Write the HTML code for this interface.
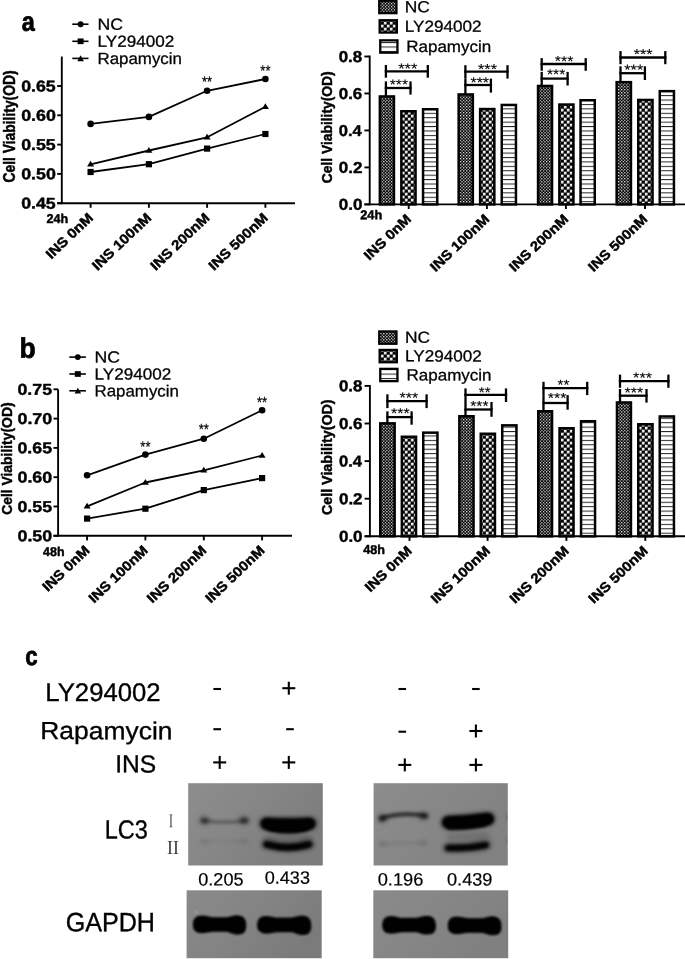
<!DOCTYPE html>
<html><head><meta charset="utf-8"><title>Figure</title>
<style>
html,body{margin:0;padding:0;background:#fff;}
body{width:685px;height:959px;overflow:hidden;font-family:"Liberation Sans",sans-serif;}
svg{display:block;}
</style></head><body>
<svg width="685" height="959" viewBox="0 0 685 959">
<defs>
<pattern id="pNC" width="3.07" height="3.07" patternUnits="userSpaceOnUse" x="1.02" y="0"><rect width="3.07" height="3.07" fill="#000"/><rect x="0" y="0" width="1.2" height="1.2" fill="#f2f2f2"/><rect x="1.535" y="1.535" width="1.2" height="1.2" fill="#f2f2f2"/></pattern>
<pattern id="pLY" width="6" height="6" patternUnits="userSpaceOnUse" x="2.85" y="0.7"><rect width="6" height="6" fill="#000"/><rect x="0" y="0" width="2.7" height="2.7" rx="0.6" fill="#fff"/><rect x="3" y="3" width="2.7" height="2.7" rx="0.6" fill="#fff"/></pattern>
<pattern id="pRA" width="4" height="4.42" patternUnits="userSpaceOnUse" y="2.3"><rect width="4" height="4.42" fill="#fff"/><rect x="0" y="0" width="4" height="1.0" fill="#262626"/></pattern>
<filter id="b1" filterUnits="userSpaceOnUse" x="0" y="770" width="685" height="200"><feGaussianBlur stdDeviation="1.6"/></filter>
<filter id="b2" filterUnits="userSpaceOnUse" x="0" y="770" width="685" height="200"><feGaussianBlur stdDeviation="2.4"/></filter>
<filter id="b4" filterUnits="userSpaceOnUse" x="0" y="770" width="685" height="200"><feGaussianBlur stdDeviation="1.25"/></filter>
<filter id="b3" filterUnits="userSpaceOnUse" x="0" y="770" width="685" height="200"><feGaussianBlur stdDeviation="1.0"/></filter>
<linearGradient id="gL" x1="0" y1="0" x2="1" y2="0.5"><stop offset="0" stop-color="#8d8d8d"/><stop offset="0.5" stop-color="#868686"/><stop offset="1" stop-color="#7c7c7c"/></linearGradient>
<linearGradient id="gR" x1="0" y1="0" x2="1" y2="0.5"><stop offset="0" stop-color="#8c8c8c"/><stop offset="0.5" stop-color="#878787"/><stop offset="1" stop-color="#818181"/></linearGradient>
<linearGradient id="gG" x1="0" y1="0" x2="1" y2="0.5"><stop offset="0" stop-color="#8a8a8a"/><stop offset="0.5" stop-color="#848484"/><stop offset="1" stop-color="#7b7b7b"/></linearGradient>
<linearGradient id="gG2" x1="0" y1="0" x2="1" y2="0.5"><stop offset="0" stop-color="#8a8a8a"/><stop offset="0.5" stop-color="#868686"/><stop offset="1" stop-color="#808080"/></linearGradient>
</defs>
<rect width="685" height="959" fill="#fff"/>
<g opacity="0.999">

<line x1="61.80" y1="56.50" x2="61.80" y2="204.15" stroke="#000" stroke-width="1.9" stroke-linecap="butt"/>
<line x1="57.20" y1="203.20" x2="295.00" y2="203.20" stroke="#000" stroke-width="1.9" stroke-linecap="butt"/>
<line x1="57.20" y1="203.20" x2="61.80" y2="203.20" stroke="#000" stroke-width="1.9" stroke-linecap="butt"/>
<text transform="matrix(0.17736,0.0003,0,0.15689,21.19,208.59)" font-family="Liberation Sans, sans-serif" font-size="100" fill="#000" font-weight="bold" stroke="#000" stroke-width="2.69" stroke-linejoin="round">0.45</text>
<line x1="57.20" y1="173.90" x2="61.80" y2="173.90" stroke="#000" stroke-width="1.9" stroke-linecap="butt"/>
<text transform="matrix(0.17855,0.0003,0,0.15689,21.19,179.29)" font-family="Liberation Sans, sans-serif" font-size="100" fill="#000" font-weight="bold" stroke="#000" stroke-width="2.68" stroke-linejoin="round">0.50</text>
<line x1="57.20" y1="144.60" x2="61.80" y2="144.60" stroke="#000" stroke-width="1.9" stroke-linecap="butt"/>
<text transform="matrix(0.17736,0.0003,0,0.15689,21.19,149.99)" font-family="Liberation Sans, sans-serif" font-size="100" fill="#000" font-weight="bold" stroke="#000" stroke-width="2.69" stroke-linejoin="round">0.55</text>
<line x1="57.20" y1="115.30" x2="61.80" y2="115.30" stroke="#000" stroke-width="1.9" stroke-linecap="butt"/>
<text transform="matrix(0.17855,0.0003,0,0.15689,21.19,120.69)" font-family="Liberation Sans, sans-serif" font-size="100" fill="#000" font-weight="bold" stroke="#000" stroke-width="2.68" stroke-linejoin="round">0.60</text>
<line x1="57.20" y1="86.00" x2="61.80" y2="86.00" stroke="#000" stroke-width="1.9" stroke-linecap="butt"/>
<text transform="matrix(0.17736,0.0003,0,0.15689,21.19,91.39)" font-family="Liberation Sans, sans-serif" font-size="100" fill="#000" font-weight="bold" stroke="#000" stroke-width="2.69" stroke-linejoin="round">0.65</text>
<line x1="90.60" y1="203.20" x2="90.60" y2="207.80" stroke="#000" stroke-width="1.9" stroke-linecap="butt"/>
<text transform="translate(94.00,218.80) rotate(-43.7) scale(1.095,1)" font-family="Liberation Sans, sans-serif" font-size="13.7" fill="#000" text-anchor="end" font-weight="bold" stroke="#000" stroke-width="0.45" stroke-linejoin="round">INS 0nM</text>
<line x1="148.90" y1="203.20" x2="148.90" y2="207.80" stroke="#000" stroke-width="1.9" stroke-linecap="butt"/>
<text transform="translate(152.30,218.80) rotate(-43.7) scale(1.095,1)" font-family="Liberation Sans, sans-serif" font-size="13.7" fill="#000" text-anchor="end" font-weight="bold" stroke="#000" stroke-width="0.45" stroke-linejoin="round">INS 100nM</text>
<line x1="207.10" y1="203.20" x2="207.10" y2="207.80" stroke="#000" stroke-width="1.9" stroke-linecap="butt"/>
<text transform="translate(210.50,218.80) rotate(-43.7) scale(1.095,1)" font-family="Liberation Sans, sans-serif" font-size="13.7" fill="#000" text-anchor="end" font-weight="bold" stroke="#000" stroke-width="0.45" stroke-linejoin="round">INS 200nM</text>
<line x1="265.40" y1="203.20" x2="265.40" y2="207.80" stroke="#000" stroke-width="1.9" stroke-linecap="butt"/>
<text transform="translate(268.80,218.80) rotate(-43.7) scale(1.095,1)" font-family="Liberation Sans, sans-serif" font-size="13.7" fill="#000" text-anchor="end" font-weight="bold" stroke="#000" stroke-width="0.45" stroke-linejoin="round">INS 500nM</text>
<text transform="matrix(0.12596,0.0003,0,0.12828,46.46,223.00)" font-family="Liberation Sans, sans-serif" font-size="100" fill="#000" font-weight="bold" stroke="#000" stroke-width="3.54" stroke-linejoin="round">24h</text>
<text transform="translate(14.95,182.45) rotate(-90) scale(0.13866,0.15657)" font-family="Liberation Sans, sans-serif" font-size="100" fill="#000" font-weight="bold" stroke="#000" stroke-width="3.05" stroke-linejoin="round">Cell Viability(OD)</text>
<polyline points="90.6,123.9 148.9,116.9 207.1,90.8 265.4,79.0" fill="none" stroke="#000" stroke-width="1.8" stroke-linejoin="round"/>
<circle cx="90.60" cy="123.90" r="3.30" fill="#000"/>
<circle cx="148.90" cy="116.90" r="3.30" fill="#000"/>
<circle cx="207.10" cy="90.80" r="3.30" fill="#000"/>
<circle cx="265.40" cy="79.00" r="3.30" fill="#000"/>
<polyline points="90.6,164.3 148.9,150.5 207.1,137.3 265.4,106.7" fill="none" stroke="#000" stroke-width="1.8" stroke-linejoin="round"/>
<path d="M87.10,166.60 L94.10,166.60 L90.60,160.80 Z" fill="#000"/>
<path d="M145.40,152.80 L152.40,152.80 L148.90,147.00 Z" fill="#000"/>
<path d="M203.60,139.60 L210.60,139.60 L207.10,133.80 Z" fill="#000"/>
<path d="M261.90,109.00 L268.90,109.00 L265.40,103.20 Z" fill="#000"/>
<polyline points="90.6,172.0 148.9,164.2 207.1,148.6 265.4,134.0" fill="none" stroke="#000" stroke-width="1.8" stroke-linejoin="round"/>
<rect x="87.50" y="168.90" width="6.20" height="6.20" fill="#000"/>
<rect x="145.80" y="161.10" width="6.20" height="6.20" fill="#000"/>
<rect x="204.00" y="145.50" width="6.20" height="6.20" fill="#000"/>
<rect x="262.30" y="130.90" width="6.20" height="6.20" fill="#000"/>
<text transform="matrix(0.13020,0.0003,0,0.15429,201.92,87.11)" font-family="Liberation Sans, sans-serif" font-size="100" fill="#000" stroke="#000" stroke-width="1.41" stroke-linejoin="round">**</text>
<text transform="matrix(0.13020,0.0003,0,0.15429,260.32,76.01)" font-family="Liberation Sans, sans-serif" font-size="100" fill="#000" stroke="#000" stroke-width="1.41" stroke-linejoin="round">**</text>
<line x1="72.30" y1="24.20" x2="88.50" y2="24.20" stroke="#000" stroke-width="1.6" stroke-linecap="butt"/>
<circle cx="80.60" cy="24.20" r="2.95" fill="#000"/>
<text transform="matrix(0.17694,0.0003,0,0.16113,97.44,29.64)" font-family="Liberation Sans, sans-serif" font-size="100" fill="#000" stroke="#000" stroke-width="1.77" stroke-linejoin="round">NC</text>
<line x1="72.30" y1="41.30" x2="88.50" y2="41.30" stroke="#000" stroke-width="1.6" stroke-linecap="butt"/>
<rect x="77.60" y="38.45" width="6.0" height="5.7" fill="#000"/>
<text transform="matrix(0.17094,0.0003,0,0.16113,97.49,46.74)" font-family="Liberation Sans, sans-serif" font-size="100" fill="#000" stroke="#000" stroke-width="1.81" stroke-linejoin="round">LY294002</text>
<line x1="72.30" y1="58.40" x2="88.50" y2="58.40" stroke="#000" stroke-width="1.6" stroke-linecap="butt"/>
<path d="M77.30,61.20 L83.90,61.20 L80.60,55.30 Z" fill="#000"/>
<text transform="matrix(0.16899,0.0003,0,0.16193,97.51,63.94)" font-family="Liberation Sans, sans-serif" font-size="100" fill="#000" stroke="#000" stroke-width="1.81" stroke-linejoin="round">Rapamycin</text>
<text transform="matrix(0.23474,0.0003,0,0.26849,21.80,30.73)" font-family="Liberation Sans, sans-serif" font-size="100" fill="#000" font-weight="bold" stroke="#000" stroke-width="2.78" stroke-linejoin="round">a</text>
<line x1="369.70" y1="55.55" x2="369.70" y2="205.35" stroke="#000" stroke-width="1.9" stroke-linecap="butt"/>
<line x1="364.40" y1="204.40" x2="685.00" y2="204.40" stroke="#000" stroke-width="1.9" stroke-linecap="butt"/>
<line x1="364.40" y1="204.40" x2="369.70" y2="204.40" stroke="#000" stroke-width="1.9" stroke-linecap="butt"/>
<text transform="matrix(0.17023,0.0003,0,0.15830,338.72,209.84)" font-family="Liberation Sans, sans-serif" font-size="100" fill="#000" font-weight="bold" stroke="#000" stroke-width="2.74" stroke-linejoin="round">0.0</text>
<line x1="364.40" y1="167.43" x2="369.70" y2="167.43" stroke="#000" stroke-width="1.9" stroke-linecap="butt"/>
<text transform="matrix(0.17023,0.0003,0,0.15830,338.72,172.87)" font-family="Liberation Sans, sans-serif" font-size="100" fill="#000" font-weight="bold" stroke="#000" stroke-width="2.74" stroke-linejoin="round">0.2</text>
<line x1="364.40" y1="130.45" x2="369.70" y2="130.45" stroke="#000" stroke-width="1.9" stroke-linecap="butt"/>
<text transform="matrix(0.16580,0.0003,0,0.15830,338.74,135.89)" font-family="Liberation Sans, sans-serif" font-size="100" fill="#000" font-weight="bold" stroke="#000" stroke-width="2.78" stroke-linejoin="round">0.4</text>
<line x1="364.40" y1="93.47" x2="369.70" y2="93.47" stroke="#000" stroke-width="1.9" stroke-linecap="butt"/>
<text transform="matrix(0.16958,0.0003,0,0.15830,338.72,98.92)" font-family="Liberation Sans, sans-serif" font-size="100" fill="#000" font-weight="bold" stroke="#000" stroke-width="2.74" stroke-linejoin="round">0.6</text>
<line x1="364.40" y1="56.50" x2="369.70" y2="56.50" stroke="#000" stroke-width="1.9" stroke-linecap="butt"/>
<text transform="matrix(0.16894,0.0003,0,0.15830,338.72,61.94)" font-family="Liberation Sans, sans-serif" font-size="100" fill="#000" font-weight="bold" stroke="#000" stroke-width="2.75" stroke-linejoin="round">0.8</text>
<rect x="379.85" y="96.45" width="14.10" height="107.95" fill="url(#pNC)" stroke="#000" stroke-width="2.5"/>
<rect x="401.35" y="111.25" width="14.20" height="93.15" fill="url(#pLY)" stroke="#000" stroke-width="2.5"/>
<rect x="423.05" y="109.25" width="14.20" height="95.15" fill="url(#pRA)" stroke="#000" stroke-width="2.5"/>
<line x1="408.70" y1="204.40" x2="408.70" y2="209.00" stroke="#000" stroke-width="1.9" stroke-linecap="butt"/>
<text transform="translate(412.10,220.00) rotate(-43.7) scale(1.095,1)" font-family="Liberation Sans, sans-serif" font-size="13.7" fill="#000" text-anchor="end" font-weight="bold" stroke="#000" stroke-width="0.45" stroke-linejoin="round">INS 0nM</text>
<line x1="384.75" y1="71.35" x2="428.95" y2="71.35" stroke="#000" stroke-width="2.3" stroke-linecap="butt"/>
<line x1="385.90" y1="65.00" x2="385.90" y2="77.70" stroke="#000" stroke-width="2.3" stroke-linecap="butt"/>
<line x1="427.80" y1="65.00" x2="427.80" y2="77.70" stroke="#000" stroke-width="2.3" stroke-linecap="butt"/>
<line x1="384.75" y1="88.00" x2="411.65" y2="88.00" stroke="#000" stroke-width="2.3" stroke-linecap="butt"/>
<line x1="385.90" y1="81.40" x2="385.90" y2="96.20" stroke="#000" stroke-width="2.3" stroke-linecap="butt"/>
<line x1="410.50" y1="81.40" x2="410.50" y2="94.60" stroke="#000" stroke-width="2.3" stroke-linecap="butt"/>
<text transform="matrix(0.16424,0.0003,0,0.14571,398.21,73.42)" font-family="Liberation Sans, sans-serif" font-size="100" fill="#000" stroke="#000" stroke-width="0.77" stroke-linejoin="round">***</text>
<text transform="matrix(0.15806,0.0003,0,0.14286,389.72,89.32)" font-family="Liberation Sans, sans-serif" font-size="100" fill="#000" stroke="#000" stroke-width="0.80" stroke-linejoin="round">***</text>
<rect x="458.65" y="94.45" width="14.20" height="109.95" fill="url(#pNC)" stroke="#000" stroke-width="2.5"/>
<rect x="480.15" y="109.05" width="14.20" height="95.35" fill="url(#pLY)" stroke="#000" stroke-width="2.5"/>
<rect x="501.75" y="104.95" width="14.20" height="99.45" fill="url(#pRA)" stroke="#000" stroke-width="2.5"/>
<line x1="486.90" y1="204.40" x2="486.90" y2="209.00" stroke="#000" stroke-width="1.9" stroke-linecap="butt"/>
<text transform="translate(490.30,220.00) rotate(-43.7) scale(1.095,1)" font-family="Liberation Sans, sans-serif" font-size="13.7" fill="#000" text-anchor="end" font-weight="bold" stroke="#000" stroke-width="0.45" stroke-linejoin="round">INS 100nM</text>
<line x1="464.25" y1="71.60" x2="508.65" y2="71.60" stroke="#000" stroke-width="2.3" stroke-linecap="butt"/>
<line x1="465.40" y1="65.20" x2="465.40" y2="78.60" stroke="#000" stroke-width="2.3" stroke-linecap="butt"/>
<line x1="507.50" y1="65.20" x2="507.50" y2="78.60" stroke="#000" stroke-width="2.3" stroke-linecap="butt"/>
<line x1="464.25" y1="85.00" x2="492.05" y2="85.00" stroke="#000" stroke-width="2.3" stroke-linecap="butt"/>
<line x1="465.40" y1="78.60" x2="465.40" y2="94.20" stroke="#000" stroke-width="2.3" stroke-linecap="butt"/>
<line x1="490.90" y1="78.60" x2="490.90" y2="92.60" stroke="#000" stroke-width="2.3" stroke-linecap="butt"/>
<text transform="matrix(0.16247,0.0003,0,0.14857,478.02,74.21)" font-family="Liberation Sans, sans-serif" font-size="100" fill="#000" stroke="#000" stroke-width="0.77" stroke-linejoin="round">***</text>
<text transform="matrix(0.15982,0.0003,0,0.14857,470.42,87.41)" font-family="Liberation Sans, sans-serif" font-size="100" fill="#000" stroke="#000" stroke-width="0.78" stroke-linejoin="round">***</text>
<rect x="538.05" y="85.95" width="14.00" height="118.45" fill="url(#pNC)" stroke="#000" stroke-width="2.5"/>
<rect x="559.35" y="104.55" width="14.10" height="99.85" fill="url(#pLY)" stroke="#000" stroke-width="2.5"/>
<rect x="580.55" y="100.25" width="14.20" height="104.15" fill="url(#pRA)" stroke="#000" stroke-width="2.5"/>
<line x1="565.90" y1="204.40" x2="565.90" y2="209.00" stroke="#000" stroke-width="1.9" stroke-linecap="butt"/>
<text transform="translate(569.30,220.00) rotate(-43.7) scale(1.095,1)" font-family="Liberation Sans, sans-serif" font-size="13.7" fill="#000" text-anchor="end" font-weight="bold" stroke="#000" stroke-width="0.45" stroke-linejoin="round">INS 200nM</text>
<line x1="540.55" y1="64.00" x2="586.85" y2="64.00" stroke="#000" stroke-width="2.3" stroke-linecap="butt"/>
<line x1="541.70" y1="58.10" x2="541.70" y2="70.80" stroke="#000" stroke-width="2.3" stroke-linecap="butt"/>
<line x1="585.70" y1="58.10" x2="585.70" y2="70.80" stroke="#000" stroke-width="2.3" stroke-linecap="butt"/>
<line x1="540.55" y1="78.60" x2="568.75" y2="78.60" stroke="#000" stroke-width="2.3" stroke-linecap="butt"/>
<line x1="541.70" y1="71.90" x2="541.70" y2="85.70" stroke="#000" stroke-width="2.3" stroke-linecap="butt"/>
<line x1="567.60" y1="71.90" x2="567.60" y2="85.50" stroke="#000" stroke-width="2.3" stroke-linecap="butt"/>
<text transform="matrix(0.15982,0.0003,0,0.14571,554.82,66.12)" font-family="Liberation Sans, sans-serif" font-size="100" fill="#000" stroke="#000" stroke-width="0.79" stroke-linejoin="round">***</text>
<text transform="matrix(0.15629,0.0003,0,0.14571,547.03,79.22)" font-family="Liberation Sans, sans-serif" font-size="100" fill="#000" stroke="#000" stroke-width="0.79" stroke-linejoin="round">***</text>
<rect x="616.65" y="82.15" width="14.30" height="122.25" fill="url(#pNC)" stroke="#000" stroke-width="2.5"/>
<rect x="638.25" y="99.95" width="14.30" height="104.45" fill="url(#pLY)" stroke="#000" stroke-width="2.5"/>
<rect x="659.75" y="91.15" width="14.20" height="113.25" fill="url(#pRA)" stroke="#000" stroke-width="2.5"/>
<line x1="645.00" y1="204.40" x2="645.00" y2="209.00" stroke="#000" stroke-width="1.9" stroke-linecap="butt"/>
<text transform="translate(648.40,220.00) rotate(-43.7) scale(1.095,1)" font-family="Liberation Sans, sans-serif" font-size="13.7" fill="#000" text-anchor="end" font-weight="bold" stroke="#000" stroke-width="0.45" stroke-linejoin="round">INS 500nM</text>
<line x1="619.35" y1="57.50" x2="666.45" y2="57.50" stroke="#000" stroke-width="2.3" stroke-linecap="butt"/>
<line x1="620.50" y1="51.10" x2="620.50" y2="64.20" stroke="#000" stroke-width="2.3" stroke-linecap="butt"/>
<line x1="665.30" y1="51.10" x2="665.30" y2="64.20" stroke="#000" stroke-width="2.3" stroke-linecap="butt"/>
<line x1="619.35" y1="73.20" x2="646.05" y2="73.20" stroke="#000" stroke-width="2.3" stroke-linecap="butt"/>
<line x1="620.50" y1="66.30" x2="620.50" y2="81.90" stroke="#000" stroke-width="2.3" stroke-linecap="butt"/>
<line x1="644.90" y1="66.30" x2="644.90" y2="80.00" stroke="#000" stroke-width="2.3" stroke-linecap="butt"/>
<text transform="matrix(0.16159,0.0003,0,0.14857,633.72,59.21)" font-family="Liberation Sans, sans-serif" font-size="100" fill="#000" stroke="#000" stroke-width="0.77" stroke-linejoin="round">***</text>
<text transform="matrix(0.16336,0.0003,0,0.14857,624.21,74.71)" font-family="Liberation Sans, sans-serif" font-size="100" fill="#000" stroke="#000" stroke-width="0.77" stroke-linejoin="round">***</text>
<text transform="matrix(0.12780,0.0003,0,0.12828,360.25,219.20)" font-family="Liberation Sans, sans-serif" font-size="100" fill="#000" font-weight="bold" stroke="#000" stroke-width="3.51" stroke-linejoin="round">24h</text>
<text transform="translate(331.55,183.15) rotate(-90) scale(0.13829,0.14692)" font-family="Liberation Sans, sans-serif" font-size="100" fill="#000" font-weight="bold" stroke="#000" stroke-width="3.16" stroke-linejoin="round">Cell Viability(OD)</text>
<rect x="379.25" y="0.85" width="17.2" height="12.3" fill="url(#pNC)" stroke="#000" stroke-width="2.3"/>
<text transform="matrix(0.17391,0.0003,0,0.15972,404.77,12.24)" font-family="Liberation Sans, sans-serif" font-size="100" fill="#000" stroke="#000" stroke-width="1.80" stroke-linejoin="round">NC</text>
<rect x="379.65" y="20.25" width="17.2" height="12.3" fill="url(#pLY)" stroke="#000" stroke-width="2.3"/>
<text transform="matrix(0.17140,0.0003,0,0.15972,404.79,31.64)" font-family="Liberation Sans, sans-serif" font-size="100" fill="#000" stroke="#000" stroke-width="1.81" stroke-linejoin="round">LY294002</text>
<rect x="380.25" y="40.35" width="17.2" height="12.3" fill="url(#pRA)" stroke="#000" stroke-width="2.3"/>
<text transform="matrix(0.17022,0.0003,0,0.16086,406.20,51.86)" font-family="Liberation Sans, sans-serif" font-size="100" fill="#000" stroke="#000" stroke-width="1.81" stroke-linejoin="round">Rapamycin</text>
<line x1="58.10" y1="389.30" x2="58.10" y2="536.75" stroke="#000" stroke-width="1.9" stroke-linecap="butt"/>
<line x1="53.50" y1="535.80" x2="292.00" y2="535.80" stroke="#000" stroke-width="1.9" stroke-linecap="butt"/>
<line x1="53.50" y1="535.80" x2="58.10" y2="535.80" stroke="#000" stroke-width="1.9" stroke-linecap="butt"/>
<text transform="matrix(0.17855,0.0003,0,0.15689,17.49,541.19)" font-family="Liberation Sans, sans-serif" font-size="100" fill="#000" font-weight="bold" stroke="#000" stroke-width="2.68" stroke-linejoin="round">0.50</text>
<line x1="53.50" y1="506.50" x2="58.10" y2="506.50" stroke="#000" stroke-width="1.9" stroke-linecap="butt"/>
<text transform="matrix(0.17736,0.0003,0,0.15689,17.49,511.89)" font-family="Liberation Sans, sans-serif" font-size="100" fill="#000" font-weight="bold" stroke="#000" stroke-width="2.69" stroke-linejoin="round">0.55</text>
<line x1="53.50" y1="477.20" x2="58.10" y2="477.20" stroke="#000" stroke-width="1.9" stroke-linecap="butt"/>
<text transform="matrix(0.17855,0.0003,0,0.15689,17.49,482.59)" font-family="Liberation Sans, sans-serif" font-size="100" fill="#000" font-weight="bold" stroke="#000" stroke-width="2.68" stroke-linejoin="round">0.60</text>
<line x1="53.50" y1="447.90" x2="58.10" y2="447.90" stroke="#000" stroke-width="1.9" stroke-linecap="butt"/>
<text transform="matrix(0.17736,0.0003,0,0.15689,17.49,453.29)" font-family="Liberation Sans, sans-serif" font-size="100" fill="#000" font-weight="bold" stroke="#000" stroke-width="2.69" stroke-linejoin="round">0.65</text>
<line x1="53.50" y1="418.60" x2="58.10" y2="418.60" stroke="#000" stroke-width="1.9" stroke-linecap="butt"/>
<text transform="matrix(0.17855,0.0003,0,0.15689,17.49,423.99)" font-family="Liberation Sans, sans-serif" font-size="100" fill="#000" font-weight="bold" stroke="#000" stroke-width="2.68" stroke-linejoin="round">0.70</text>
<line x1="53.50" y1="389.30" x2="58.10" y2="389.30" stroke="#000" stroke-width="1.9" stroke-linecap="butt"/>
<text transform="matrix(0.17736,0.0003,0,0.15689,17.49,394.69)" font-family="Liberation Sans, sans-serif" font-size="100" fill="#000" font-weight="bold" stroke="#000" stroke-width="2.69" stroke-linejoin="round">0.75</text>
<line x1="87.10" y1="535.80" x2="87.10" y2="540.40" stroke="#000" stroke-width="1.9" stroke-linecap="butt"/>
<text transform="translate(90.50,551.40) rotate(-43.7) scale(1.095,1)" font-family="Liberation Sans, sans-serif" font-size="13.7" fill="#000" text-anchor="end" font-weight="bold" stroke="#000" stroke-width="0.45" stroke-linejoin="round">INS 0nM</text>
<line x1="145.40" y1="535.80" x2="145.40" y2="540.40" stroke="#000" stroke-width="1.9" stroke-linecap="butt"/>
<text transform="translate(148.80,551.40) rotate(-43.7) scale(1.095,1)" font-family="Liberation Sans, sans-serif" font-size="13.7" fill="#000" text-anchor="end" font-weight="bold" stroke="#000" stroke-width="0.45" stroke-linejoin="round">INS 100nM</text>
<line x1="203.80" y1="535.80" x2="203.80" y2="540.40" stroke="#000" stroke-width="1.9" stroke-linecap="butt"/>
<text transform="translate(207.20,551.40) rotate(-43.7) scale(1.095,1)" font-family="Liberation Sans, sans-serif" font-size="13.7" fill="#000" text-anchor="end" font-weight="bold" stroke="#000" stroke-width="0.45" stroke-linejoin="round">INS 200nM</text>
<line x1="262.10" y1="535.80" x2="262.10" y2="540.40" stroke="#000" stroke-width="1.9" stroke-linecap="butt"/>
<text transform="translate(265.50,551.40) rotate(-43.7) scale(1.095,1)" font-family="Liberation Sans, sans-serif" font-size="13.7" fill="#000" text-anchor="end" font-weight="bold" stroke="#000" stroke-width="0.45" stroke-linejoin="round">INS 500nM</text>
<text transform="matrix(0.12443,0.0003,0,0.12653,43.11,556.07)" font-family="Liberation Sans, sans-serif" font-size="100" fill="#000" font-weight="bold" stroke="#000" stroke-width="3.59" stroke-linejoin="round">48h</text>
<text transform="translate(11.52,514.86) rotate(-90) scale(0.13891,0.15335)" font-family="Liberation Sans, sans-serif" font-size="100" fill="#000" font-weight="bold" stroke="#000" stroke-width="3.08" stroke-linejoin="round">Cell Viability(OD)</text>
<polyline points="87.1,475.3 145.4,454.6 203.8,438.7 262.1,410.3" fill="none" stroke="#000" stroke-width="1.8" stroke-linejoin="round"/>
<circle cx="87.10" cy="475.30" r="3.30" fill="#000"/>
<circle cx="145.40" cy="454.60" r="3.30" fill="#000"/>
<circle cx="203.80" cy="438.70" r="3.30" fill="#000"/>
<circle cx="262.10" cy="410.30" r="3.30" fill="#000"/>
<polyline points="87.1,506.3 145.4,482.5 203.8,470.3 262.1,455.5" fill="none" stroke="#000" stroke-width="1.8" stroke-linejoin="round"/>
<path d="M83.60,508.60 L90.60,508.60 L87.10,502.80 Z" fill="#000"/>
<path d="M141.90,484.80 L148.90,484.80 L145.40,479.00 Z" fill="#000"/>
<path d="M200.30,472.60 L207.30,472.60 L203.80,466.80 Z" fill="#000"/>
<path d="M258.60,457.80 L265.60,457.80 L262.10,452.00 Z" fill="#000"/>
<polyline points="87.1,518.6 145.4,508.7 203.8,490.1 262.1,478.1" fill="none" stroke="#000" stroke-width="1.8" stroke-linejoin="round"/>
<rect x="84.00" y="515.50" width="6.20" height="6.20" fill="#000"/>
<rect x="142.30" y="505.60" width="6.20" height="6.20" fill="#000"/>
<rect x="200.70" y="487.00" width="6.20" height="6.20" fill="#000"/>
<rect x="259.00" y="475.00" width="6.20" height="6.20" fill="#000"/>
<text transform="matrix(0.13020,0.0003,0,0.15429,140.32,452.11)" font-family="Liberation Sans, sans-serif" font-size="100" fill="#000" stroke="#000" stroke-width="1.41" stroke-linejoin="round">**</text>
<text transform="matrix(0.13020,0.0003,0,0.15429,198.72,434.61)" font-family="Liberation Sans, sans-serif" font-size="100" fill="#000" stroke="#000" stroke-width="1.41" stroke-linejoin="round">**</text>
<text transform="matrix(0.13020,0.0003,0,0.15429,257.02,407.61)" font-family="Liberation Sans, sans-serif" font-size="100" fill="#000" stroke="#000" stroke-width="1.41" stroke-linejoin="round">**</text>
<line x1="69.30" y1="357.10" x2="85.90" y2="357.10" stroke="#000" stroke-width="1.6" stroke-linecap="butt"/>
<circle cx="77.80" cy="357.10" r="2.95" fill="#000"/>
<text transform="matrix(0.17694,0.0003,0,0.16113,94.44,362.54)" font-family="Liberation Sans, sans-serif" font-size="100" fill="#000" stroke="#000" stroke-width="1.77" stroke-linejoin="round">NC</text>
<line x1="69.30" y1="374.00" x2="85.90" y2="374.00" stroke="#000" stroke-width="1.6" stroke-linecap="butt"/>
<rect x="74.80" y="371.15" width="6.0" height="5.7" fill="#000"/>
<text transform="matrix(0.17094,0.0003,0,0.16113,94.49,379.44)" font-family="Liberation Sans, sans-serif" font-size="100" fill="#000" stroke="#000" stroke-width="1.81" stroke-linejoin="round">LY294002</text>
<line x1="69.30" y1="390.80" x2="85.90" y2="390.80" stroke="#000" stroke-width="1.6" stroke-linecap="butt"/>
<path d="M74.50,393.60 L81.10,393.60 L77.80,387.70 Z" fill="#000"/>
<text transform="matrix(0.16899,0.0003,0,0.16193,94.51,396.34)" font-family="Liberation Sans, sans-serif" font-size="100" fill="#000" stroke="#000" stroke-width="1.81" stroke-linejoin="round">Rapamycin</text>
<text transform="matrix(0.26535,0.0003,0,0.28163,19.38,357.72)" font-family="Liberation Sans, sans-serif" font-size="100" fill="#000" font-weight="bold" stroke="#000" stroke-width="2.56" stroke-linejoin="round">b</text>
<line x1="369.90" y1="384.95" x2="369.90" y2="537.25" stroke="#000" stroke-width="1.9" stroke-linecap="butt"/>
<line x1="364.60" y1="536.30" x2="685.00" y2="536.30" stroke="#000" stroke-width="1.9" stroke-linecap="butt"/>
<line x1="364.60" y1="536.30" x2="369.90" y2="536.30" stroke="#000" stroke-width="1.9" stroke-linecap="butt"/>
<text transform="matrix(0.17023,0.0003,0,0.15830,338.92,541.74)" font-family="Liberation Sans, sans-serif" font-size="100" fill="#000" font-weight="bold" stroke="#000" stroke-width="2.74" stroke-linejoin="round">0.0</text>
<line x1="364.60" y1="498.70" x2="369.90" y2="498.70" stroke="#000" stroke-width="1.9" stroke-linecap="butt"/>
<text transform="matrix(0.17023,0.0003,0,0.15830,338.92,504.14)" font-family="Liberation Sans, sans-serif" font-size="100" fill="#000" font-weight="bold" stroke="#000" stroke-width="2.74" stroke-linejoin="round">0.2</text>
<line x1="364.60" y1="461.10" x2="369.90" y2="461.10" stroke="#000" stroke-width="1.9" stroke-linecap="butt"/>
<text transform="matrix(0.16580,0.0003,0,0.15830,338.94,466.54)" font-family="Liberation Sans, sans-serif" font-size="100" fill="#000" font-weight="bold" stroke="#000" stroke-width="2.78" stroke-linejoin="round">0.4</text>
<line x1="364.60" y1="423.50" x2="369.90" y2="423.50" stroke="#000" stroke-width="1.9" stroke-linecap="butt"/>
<text transform="matrix(0.16958,0.0003,0,0.15830,338.92,428.94)" font-family="Liberation Sans, sans-serif" font-size="100" fill="#000" font-weight="bold" stroke="#000" stroke-width="2.74" stroke-linejoin="round">0.6</text>
<line x1="364.60" y1="385.90" x2="369.90" y2="385.90" stroke="#000" stroke-width="1.9" stroke-linecap="butt"/>
<text transform="matrix(0.16894,0.0003,0,0.15830,338.92,391.34)" font-family="Liberation Sans, sans-serif" font-size="100" fill="#000" font-weight="bold" stroke="#000" stroke-width="2.75" stroke-linejoin="round">0.8</text>
<rect x="380.25" y="423.35" width="14.40" height="112.95" fill="url(#pNC)" stroke="#000" stroke-width="2.5"/>
<rect x="401.85" y="436.75" width="14.20" height="99.55" fill="url(#pLY)" stroke="#000" stroke-width="2.5"/>
<rect x="423.25" y="432.65" width="14.20" height="103.65" fill="url(#pRA)" stroke="#000" stroke-width="2.5"/>
<line x1="409.50" y1="536.30" x2="409.50" y2="540.90" stroke="#000" stroke-width="1.9" stroke-linecap="butt"/>
<text transform="translate(412.90,551.90) rotate(-43.7) scale(1.095,1)" font-family="Liberation Sans, sans-serif" font-size="13.7" fill="#000" text-anchor="end" font-weight="bold" stroke="#000" stroke-width="0.45" stroke-linejoin="round">INS 0nM</text>
<line x1="386.25" y1="401.10" x2="427.75" y2="401.10" stroke="#000" stroke-width="2.3" stroke-linecap="butt"/>
<line x1="387.40" y1="394.30" x2="387.40" y2="408.10" stroke="#000" stroke-width="2.3" stroke-linecap="butt"/>
<line x1="426.60" y1="394.30" x2="426.60" y2="408.10" stroke="#000" stroke-width="2.3" stroke-linecap="butt"/>
<line x1="386.25" y1="417.10" x2="412.75" y2="417.10" stroke="#000" stroke-width="2.3" stroke-linecap="butt"/>
<line x1="387.40" y1="411.30" x2="387.40" y2="423.10" stroke="#000" stroke-width="2.3" stroke-linecap="butt"/>
<line x1="411.60" y1="411.30" x2="411.60" y2="424.70" stroke="#000" stroke-width="2.3" stroke-linecap="butt"/>
<text transform="matrix(0.16071,0.0003,0,0.14571,399.62,402.62)" font-family="Liberation Sans, sans-serif" font-size="100" fill="#000" stroke="#000" stroke-width="0.78" stroke-linejoin="round">***</text>
<text transform="matrix(0.15982,0.0003,0,0.14571,391.02,418.32)" font-family="Liberation Sans, sans-serif" font-size="100" fill="#000" stroke="#000" stroke-width="0.79" stroke-linejoin="round">***</text>
<rect x="459.35" y="416.25" width="14.20" height="120.05" fill="url(#pNC)" stroke="#000" stroke-width="2.5"/>
<rect x="480.75" y="433.75" width="14.20" height="102.55" fill="url(#pLY)" stroke="#000" stroke-width="2.5"/>
<rect x="502.25" y="425.35" width="14.20" height="110.95" fill="url(#pRA)" stroke="#000" stroke-width="2.5"/>
<line x1="487.60" y1="536.30" x2="487.60" y2="540.90" stroke="#000" stroke-width="1.9" stroke-linecap="butt"/>
<text transform="translate(491.00,551.90) rotate(-43.7) scale(1.095,1)" font-family="Liberation Sans, sans-serif" font-size="13.7" fill="#000" text-anchor="end" font-weight="bold" stroke="#000" stroke-width="0.45" stroke-linejoin="round">INS 100nM</text>
<line x1="464.35" y1="394.95" x2="507.15" y2="394.95" stroke="#000" stroke-width="2.3" stroke-linecap="butt"/>
<line x1="465.50" y1="388.40" x2="465.50" y2="402.00" stroke="#000" stroke-width="2.3" stroke-linecap="butt"/>
<line x1="506.00" y1="388.40" x2="506.00" y2="402.00" stroke="#000" stroke-width="2.3" stroke-linecap="butt"/>
<line x1="464.35" y1="409.50" x2="492.65" y2="409.50" stroke="#000" stroke-width="2.3" stroke-linecap="butt"/>
<line x1="465.50" y1="402.00" x2="465.50" y2="416.00" stroke="#000" stroke-width="2.3" stroke-linecap="butt"/>
<line x1="491.50" y1="402.00" x2="491.50" y2="416.80" stroke="#000" stroke-width="2.3" stroke-linecap="butt"/>
<text transform="matrix(0.15034,0.0003,0,0.14571,478.84,397.22)" font-family="Liberation Sans, sans-serif" font-size="100" fill="#000" stroke="#000" stroke-width="0.81" stroke-linejoin="round">**</text>
<text transform="matrix(0.15629,0.0003,0,0.14571,470.23,410.92)" font-family="Liberation Sans, sans-serif" font-size="100" fill="#000" stroke="#000" stroke-width="0.79" stroke-linejoin="round">***</text>
<rect x="538.25" y="411.25" width="13.80" height="125.05" fill="url(#pNC)" stroke="#000" stroke-width="2.5"/>
<rect x="559.55" y="428.25" width="14.00" height="108.05" fill="url(#pLY)" stroke="#000" stroke-width="2.5"/>
<rect x="581.05" y="421.25" width="14.00" height="115.05" fill="url(#pRA)" stroke="#000" stroke-width="2.5"/>
<line x1="566.40" y1="536.30" x2="566.40" y2="540.90" stroke="#000" stroke-width="1.9" stroke-linecap="butt"/>
<text transform="translate(569.80,551.90) rotate(-43.7) scale(1.095,1)" font-family="Liberation Sans, sans-serif" font-size="13.7" fill="#000" text-anchor="end" font-weight="bold" stroke="#000" stroke-width="0.45" stroke-linejoin="round">INS 200nM</text>
<line x1="542.35" y1="388.20" x2="588.35" y2="388.20" stroke="#000" stroke-width="2.3" stroke-linecap="butt"/>
<line x1="543.50" y1="381.80" x2="543.50" y2="395.10" stroke="#000" stroke-width="2.3" stroke-linecap="butt"/>
<line x1="587.20" y1="381.80" x2="587.20" y2="395.10" stroke="#000" stroke-width="2.3" stroke-linecap="butt"/>
<line x1="542.35" y1="403.00" x2="568.75" y2="403.00" stroke="#000" stroke-width="2.3" stroke-linecap="butt"/>
<line x1="543.50" y1="395.10" x2="543.50" y2="411.00" stroke="#000" stroke-width="2.3" stroke-linecap="butt"/>
<line x1="567.60" y1="395.10" x2="567.60" y2="409.70" stroke="#000" stroke-width="2.3" stroke-linecap="butt"/>
<text transform="matrix(0.15168,0.0003,0,0.14571,557.53,389.72)" font-family="Liberation Sans, sans-serif" font-size="100" fill="#000" stroke="#000" stroke-width="0.81" stroke-linejoin="round">**</text>
<text transform="matrix(0.15982,0.0003,0,0.14571,547.82,403.02)" font-family="Liberation Sans, sans-serif" font-size="100" fill="#000" stroke="#000" stroke-width="0.79" stroke-linejoin="round">***</text>
<rect x="616.95" y="402.45" width="14.00" height="133.85" fill="url(#pNC)" stroke="#000" stroke-width="2.5"/>
<rect x="638.25" y="424.25" width="14.30" height="112.05" fill="url(#pLY)" stroke="#000" stroke-width="2.5"/>
<rect x="659.75" y="416.45" width="14.20" height="119.85" fill="url(#pRA)" stroke="#000" stroke-width="2.5"/>
<line x1="645.30" y1="536.30" x2="645.30" y2="540.90" stroke="#000" stroke-width="1.9" stroke-linecap="butt"/>
<text transform="translate(648.70,551.90) rotate(-43.7) scale(1.095,1)" font-family="Liberation Sans, sans-serif" font-size="13.7" fill="#000" text-anchor="end" font-weight="bold" stroke="#000" stroke-width="0.45" stroke-linejoin="round">INS 500nM</text>
<line x1="618.85" y1="381.10" x2="669.55" y2="381.10" stroke="#000" stroke-width="2.3" stroke-linecap="butt"/>
<line x1="620.00" y1="374.60" x2="620.00" y2="387.80" stroke="#000" stroke-width="2.3" stroke-linecap="butt"/>
<line x1="668.40" y1="374.60" x2="668.40" y2="387.80" stroke="#000" stroke-width="2.3" stroke-linecap="butt"/>
<line x1="618.85" y1="395.70" x2="647.65" y2="395.70" stroke="#000" stroke-width="2.3" stroke-linecap="butt"/>
<line x1="620.00" y1="389.00" x2="620.00" y2="402.20" stroke="#000" stroke-width="2.3" stroke-linecap="butt"/>
<line x1="646.50" y1="389.00" x2="646.50" y2="402.60" stroke="#000" stroke-width="2.3" stroke-linecap="butt"/>
<text transform="matrix(0.16159,0.0003,0,0.14571,633.12,382.62)" font-family="Liberation Sans, sans-serif" font-size="100" fill="#000" stroke="#000" stroke-width="0.78" stroke-linejoin="round">***</text>
<text transform="matrix(0.15982,0.0003,0,0.14571,624.62,397.52)" font-family="Liberation Sans, sans-serif" font-size="100" fill="#000" stroke="#000" stroke-width="0.79" stroke-linejoin="round">***</text>
<text transform="matrix(0.12625,0.0003,0,0.12653,363.21,553.87)" font-family="Liberation Sans, sans-serif" font-size="100" fill="#000" font-weight="bold" stroke="#000" stroke-width="3.56" stroke-linejoin="round">48h</text>
<text transform="translate(331.55,515.07) rotate(-90) scale(0.14304,0.14692)" font-family="Liberation Sans, sans-serif" font-size="100" fill="#000" font-weight="bold" stroke="#000" stroke-width="3.10" stroke-linejoin="round">Cell Viability(OD)</text>
<rect x="379.25" y="331.45" width="17.2" height="12.3" fill="url(#pNC)" stroke="#000" stroke-width="2.3"/>
<text transform="matrix(0.17391,0.0003,0,0.15972,405.07,342.84)" font-family="Liberation Sans, sans-serif" font-size="100" fill="#000" stroke="#000" stroke-width="1.80" stroke-linejoin="round">NC</text>
<rect x="379.65" y="349.95" width="17.2" height="12.3" fill="url(#pLY)" stroke="#000" stroke-width="2.3"/>
<text transform="matrix(0.17140,0.0003,0,0.15972,405.09,361.34)" font-family="Liberation Sans, sans-serif" font-size="100" fill="#000" stroke="#000" stroke-width="1.81" stroke-linejoin="round">LY294002</text>
<rect x="380.25" y="368.85" width="17.2" height="12.3" fill="url(#pRA)" stroke="#000" stroke-width="2.3"/>
<text transform="matrix(0.17022,0.0003,0,0.16086,406.50,380.36)" font-family="Liberation Sans, sans-serif" font-size="100" fill="#000" stroke="#000" stroke-width="1.81" stroke-linejoin="round">Rapamycin</text>
<text transform="matrix(0.22359,0.0003,0,0.26301,25.21,664.94)" font-family="Liberation Sans, sans-serif" font-size="100" fill="#000" font-weight="bold" stroke="#000" stroke-width="2.88" stroke-linejoin="round">c</text>
<text transform="matrix(0.25732,0.0003,0,0.25442,45.28,700.95)" font-family="Liberation Sans, sans-serif" font-size="100" fill="#000" stroke="#000" stroke-width="1.37" stroke-linejoin="round">LY294002</text>
<text transform="matrix(0.26461,0.0003,0,0.24665,40.22,739.08)" font-family="Liberation Sans, sans-serif" font-size="100" fill="#000" stroke="#000" stroke-width="1.37" stroke-linejoin="round">Rapamycin</text>
<text transform="matrix(0.24615,0.0003,0,0.24594,115.22,772.35)" font-family="Liberation Sans, sans-serif" font-size="100" fill="#000" stroke="#000" stroke-width="1.42" stroke-linejoin="round">INS</text>
<line x1="213.40" y1="689.00" x2="221.00" y2="689.00" stroke="#000" stroke-width="2.1" stroke-linecap="butt"/>
<line x1="282.30" y1="688.20" x2="295.30" y2="688.20" stroke="#000" stroke-width="2.1" stroke-linecap="butt"/><line x1="288.80" y1="681.70" x2="288.80" y2="694.70" stroke="#000" stroke-width="2.1" stroke-linecap="butt"/>
<line x1="213.40" y1="729.20" x2="221.00" y2="729.20" stroke="#000" stroke-width="2.1" stroke-linecap="butt"/>
<line x1="286.20" y1="729.20" x2="293.80" y2="729.20" stroke="#000" stroke-width="2.1" stroke-linecap="butt"/>
<line x1="213.20" y1="762.40" x2="226.20" y2="762.40" stroke="#000" stroke-width="2.1" stroke-linecap="butt"/><line x1="219.70" y1="755.90" x2="219.70" y2="768.90" stroke="#000" stroke-width="2.1" stroke-linecap="butt"/>
<line x1="282.30" y1="762.40" x2="295.30" y2="762.40" stroke="#000" stroke-width="2.1" stroke-linecap="butt"/><line x1="288.80" y1="755.90" x2="288.80" y2="768.90" stroke="#000" stroke-width="2.1" stroke-linecap="butt"/>
<line x1="398.50" y1="689.00" x2="406.10" y2="689.00" stroke="#000" stroke-width="2.1" stroke-linecap="butt"/>
<line x1="472.10" y1="689.00" x2="479.70" y2="689.00" stroke="#000" stroke-width="2.1" stroke-linecap="butt"/>
<line x1="398.50" y1="731.70" x2="406.10" y2="731.70" stroke="#000" stroke-width="2.1" stroke-linecap="butt"/>
<line x1="469.40" y1="731.00" x2="482.40" y2="731.00" stroke="#000" stroke-width="2.1" stroke-linecap="butt"/><line x1="475.90" y1="724.50" x2="475.90" y2="737.50" stroke="#000" stroke-width="2.1" stroke-linecap="butt"/>
<line x1="398.30" y1="764.90" x2="411.30" y2="764.90" stroke="#000" stroke-width="2.1" stroke-linecap="butt"/><line x1="404.80" y1="758.40" x2="404.80" y2="771.40" stroke="#000" stroke-width="2.1" stroke-linecap="butt"/>
<line x1="469.40" y1="764.90" x2="482.40" y2="764.90" stroke="#000" stroke-width="2.1" stroke-linecap="butt"/><line x1="475.90" y1="758.40" x2="475.90" y2="771.40" stroke="#000" stroke-width="2.1" stroke-linecap="butt"/>
<rect x="188.2" y="783.2" width="134.6" height="82.3" fill="url(#gL)"/>
<clipPath id="cl1"><rect x="188.2" y="783.2" width="134.6" height="82.3"/></clipPath><g clip-path="url(#cl1)">
<path d="M203,820.8 Q224,823.6 246,820.8" fill="none" stroke="#000" stroke-width="3.4" stroke-linecap="round" stroke-linejoin="round" opacity="0.3" filter="url(#b1)"/>
<ellipse cx="204.4" cy="820.4" rx="4.4" ry="3.0" fill="#000" opacity="0.72" filter="url(#b2)"/>
<ellipse cx="244.2" cy="820.4" rx="4.6" ry="3.1" fill="#000" opacity="0.72" filter="url(#b2)"/>
<path d="M203,841.5 L246,841.5" fill="none" stroke="#000" stroke-width="3.0" stroke-linecap="round" stroke-linejoin="round" opacity="0.04" filter="url(#b1)"/>
<ellipse cx="204.4" cy="841.5" rx="3.6" ry="2.4" fill="#000" opacity="0.1" filter="url(#b2)"/>
<ellipse cx="244.2" cy="841.5" rx="3.6" ry="2.4" fill="#000" opacity="0.1" filter="url(#b2)"/>
<path d="M265.5,823.4 Q288,824.2 310.5,823.4" fill="none" stroke="#000" stroke-width="11.5" stroke-linecap="round" stroke-linejoin="round" opacity="1" filter="url(#b2)"/>
<path d="M267,824 Q288,826.5 309,824" fill="none" stroke="#000" stroke-width="11.5" stroke-linecap="round" stroke-linejoin="round" opacity="1" filter="url(#b1)"/>
<path d="M271,828.3 Q288,832.6 305,828.3" fill="none" stroke="#000" stroke-width="6.5" stroke-linecap="round" stroke-linejoin="round" opacity="0.95" filter="url(#b1)"/>
<path d="M268,837.5 L308,837.5" fill="none" stroke="#000" stroke-width="7" stroke-linecap="round" stroke-linejoin="round" opacity="0.16" filter="url(#b2)"/>
<path d="M266,844.2 Q288,850 309.5,844.2" fill="none" stroke="#000" stroke-width="7.6" stroke-linecap="round" stroke-linejoin="round" opacity="0.93" filter="url(#b2)"/>
<path d="M267,844.6 Q288,850.4 308.5,844.6" fill="none" stroke="#000" stroke-width="5.6" stroke-linecap="round" stroke-linejoin="round" opacity="0.9" filter="url(#b1)"/>
</g>
<rect x="373.6" y="783.2" width="134.2" height="82.3" fill="url(#gR)"/>
<clipPath id="cl2"><rect x="373.6" y="783.2" width="134.2" height="82.3"/></clipPath><g clip-path="url(#cl2)">
<path d="M381.5,818.3 Q401,811.8 425.5,815.8" fill="none" stroke="#000" stroke-width="4.6" stroke-linecap="round" stroke-linejoin="round" opacity="0.62" filter="url(#b1)"/>
<ellipse cx="382.4" cy="818.4" rx="4.0" ry="3.2" fill="#000" opacity="0.72" filter="url(#b2)"/>
<ellipse cx="423.6" cy="815.9" rx="4.6" ry="3.0" fill="#000" opacity="0.66" filter="url(#b2)"/>
<path d="M381,844 Q401,842.5 425,843" fill="none" stroke="#000" stroke-width="3.2" stroke-linecap="round" stroke-linejoin="round" opacity="0.07" filter="url(#b1)"/>
<ellipse cx="382.5" cy="844.2" rx="3.6" ry="2.4" fill="#000" opacity="0.13" filter="url(#b2)"/>
<ellipse cx="423.5" cy="843" rx="3.6" ry="2.4" fill="#000" opacity="0.13" filter="url(#b2)"/>
<path d="M447.5,822.3 Q468,821.5 488.5,818.8" fill="none" stroke="#000" stroke-width="12.0" stroke-linecap="round" stroke-linejoin="round" opacity="1" filter="url(#b2)"/>
<path d="M448.5,822.3 Q468,822 487.5,819.2" fill="none" stroke="#000" stroke-width="11.5" stroke-linecap="round" stroke-linejoin="round" opacity="1" filter="url(#b1)"/>
<path d="M450,826.8 Q466,827.6 484,823.8" fill="none" stroke="#000" stroke-width="6" stroke-linecap="round" stroke-linejoin="round" opacity="0.9" filter="url(#b1)"/>
<path d="M450,837 L486,836" fill="none" stroke="#000" stroke-width="7" stroke-linecap="round" stroke-linejoin="round" opacity="0.16" filter="url(#b2)"/>
<path d="M447.5,847.8 Q468,848.5 486.5,844.8" fill="none" stroke="#000" stroke-width="7.2" stroke-linecap="round" stroke-linejoin="round" opacity="0.92" filter="url(#b2)"/>
<path d="M448.5,848 Q468,848.7 485.5,845.2" fill="none" stroke="#000" stroke-width="5.2" stroke-linecap="round" stroke-linejoin="round" opacity="0.88" filter="url(#b1)"/>
<path d="M507.2,814 L507.2,820" fill="none" stroke="#000" stroke-width="1.2" stroke-linecap="round" stroke-linejoin="round" opacity="0.25" filter="url(#b3)"/>
<path d="M507.2,838 L507.2,843" fill="none" stroke="#000" stroke-width="1.2" stroke-linecap="round" stroke-linejoin="round" opacity="0.18" filter="url(#b3)"/>
</g>
<text transform="matrix(0.18080,0.0003,0,0.17951,198.28,885.52)" font-family="Liberation Sans, sans-serif" font-size="100" fill="#000" stroke="#000" stroke-width="1.11" stroke-linejoin="round">0.205</text>
<text transform="matrix(0.18140,0.0003,0,0.17951,264.67,883.72)" font-family="Liberation Sans, sans-serif" font-size="100" fill="#000" stroke="#000" stroke-width="1.11" stroke-linejoin="round">0.433</text>
<text transform="matrix(0.18264,0.0003,0,0.17951,377.67,885.52)" font-family="Liberation Sans, sans-serif" font-size="100" fill="#000" stroke="#000" stroke-width="1.10" stroke-linejoin="round">0.196</text>
<text transform="matrix(0.18201,0.0003,0,0.17951,446.97,885.52)" font-family="Liberation Sans, sans-serif" font-size="100" fill="#000" stroke="#000" stroke-width="1.11" stroke-linejoin="round">0.439</text>
<rect x="186.6" y="890.3" width="135.1" height="67.9" fill="url(#gG)"/>
<rect x="373.3" y="890.3" width="134.9" height="67.9" fill="url(#gG2)"/>
<path d="M193.4,924.7 C193.4,917.6 196.9,916.1 201.9,916.1 C207.4,916.1 208.4,917.8 214.4,917.8 L224.7,917.8 C230.7,917.8 231.7,915.8 237.2,915.8 C242.2,915.8 245.7,918.1 245.7,925.2 C245.7,933.1 242.2,934.1 237.2,934.1 C231.7,934.1 230.7,931.2 224.7,931.2 L214.4,931.2 C208.4,931.2 207.4,932.7 201.9,932.7 C196.9,932.7 193.4,930.8 193.4,924.7 Z" fill="#030303" stroke="#030303" stroke-width="1.2" filter="url(#b4)"/>
<path d="M257.6,925.1 C257.6,918.0 261.1,916.5 266.1,916.5 C271.6,916.5 272.6,918.2 278.6,918.2 L289.8,918.2 C295.8,918.2 296.8,916.2 302.3,916.2 C307.3,916.2 310.8,918.5 310.8,925.6 C310.8,933.5 307.3,934.5 302.3,934.5 C296.8,934.5 295.8,931.6 289.8,931.6 L278.6,931.6 C272.6,931.6 271.6,933.1 266.1,933.1 C261.1,933.1 257.6,931.2 257.6,925.1 Z" fill="#030303" stroke="#030303" stroke-width="1.2" filter="url(#b4)"/>
<path d="M382.7,925.2 C382.7,918.2 386.2,916.7 391.2,916.7 C396.7,916.7 397.7,918.4 403.7,918.4 L414.4,918.4 C420.4,918.4 421.4,916.4 426.9,916.4 C431.9,916.4 435.4,918.7 435.4,925.7 C435.4,933.0 431.9,934.0 426.9,934.0 C421.4,934.0 420.4,931.6 414.4,931.6 L403.7,931.6 C397.7,931.6 396.7,933.1 391.2,933.1 C386.2,933.1 382.7,931.2 382.7,925.2 Z" fill="#030303" stroke="#030303" stroke-width="1.2" filter="url(#b4)"/>
<path d="M448.3,925.7 C448.3,918.6 451.8,917.1 456.8,917.1 C462.3,917.1 463.3,918.8 469.3,918.8 L480.0,918.8 C486.0,918.8 487.0,916.8 492.5,916.8 C497.5,916.8 501.0,919.1 501.0,926.2 C501.0,933.6 497.5,934.6 492.5,934.6 C487.0,934.6 486.0,932.2 480.0,932.2 L469.3,932.2 C463.3,932.2 462.3,933.7 456.8,933.7 C451.8,933.7 448.3,931.8 448.3,925.7 Z" fill="#030303" stroke="#030303" stroke-width="1.2" filter="url(#b4)"/>
<circle cx="195.8" cy="912" r="0.9" fill="#b5b5b5" filter="url(#b3)"/>
<text transform="matrix(0.23543,0.0003,0,0.26148,104.66,838.44)" font-family="Liberation Sans, sans-serif" font-size="100" fill="#000" stroke="#000" stroke-width="1.41" stroke-linejoin="round">LC3</text>
<text transform="matrix(0.25139,0.0003,0,0.26572,65.64,931.13)" font-family="Liberation Sans, sans-serif" font-size="100" fill="#000" stroke="#000" stroke-width="1.35" stroke-linejoin="round">GAPDH</text>
<text transform="matrix(0.11810,0.0003,0,0.19542,168.89,827.20)" font-family="Liberation Serif, serif" font-size="100" fill="#3a3a3a">I</text>
<text transform="matrix(0.17815,0.0003,0,0.19847,166.98,854.00)" font-family="Liberation Serif, serif" font-size="100" fill="#3a3a3a">II</text>
</g></svg></body></html>
